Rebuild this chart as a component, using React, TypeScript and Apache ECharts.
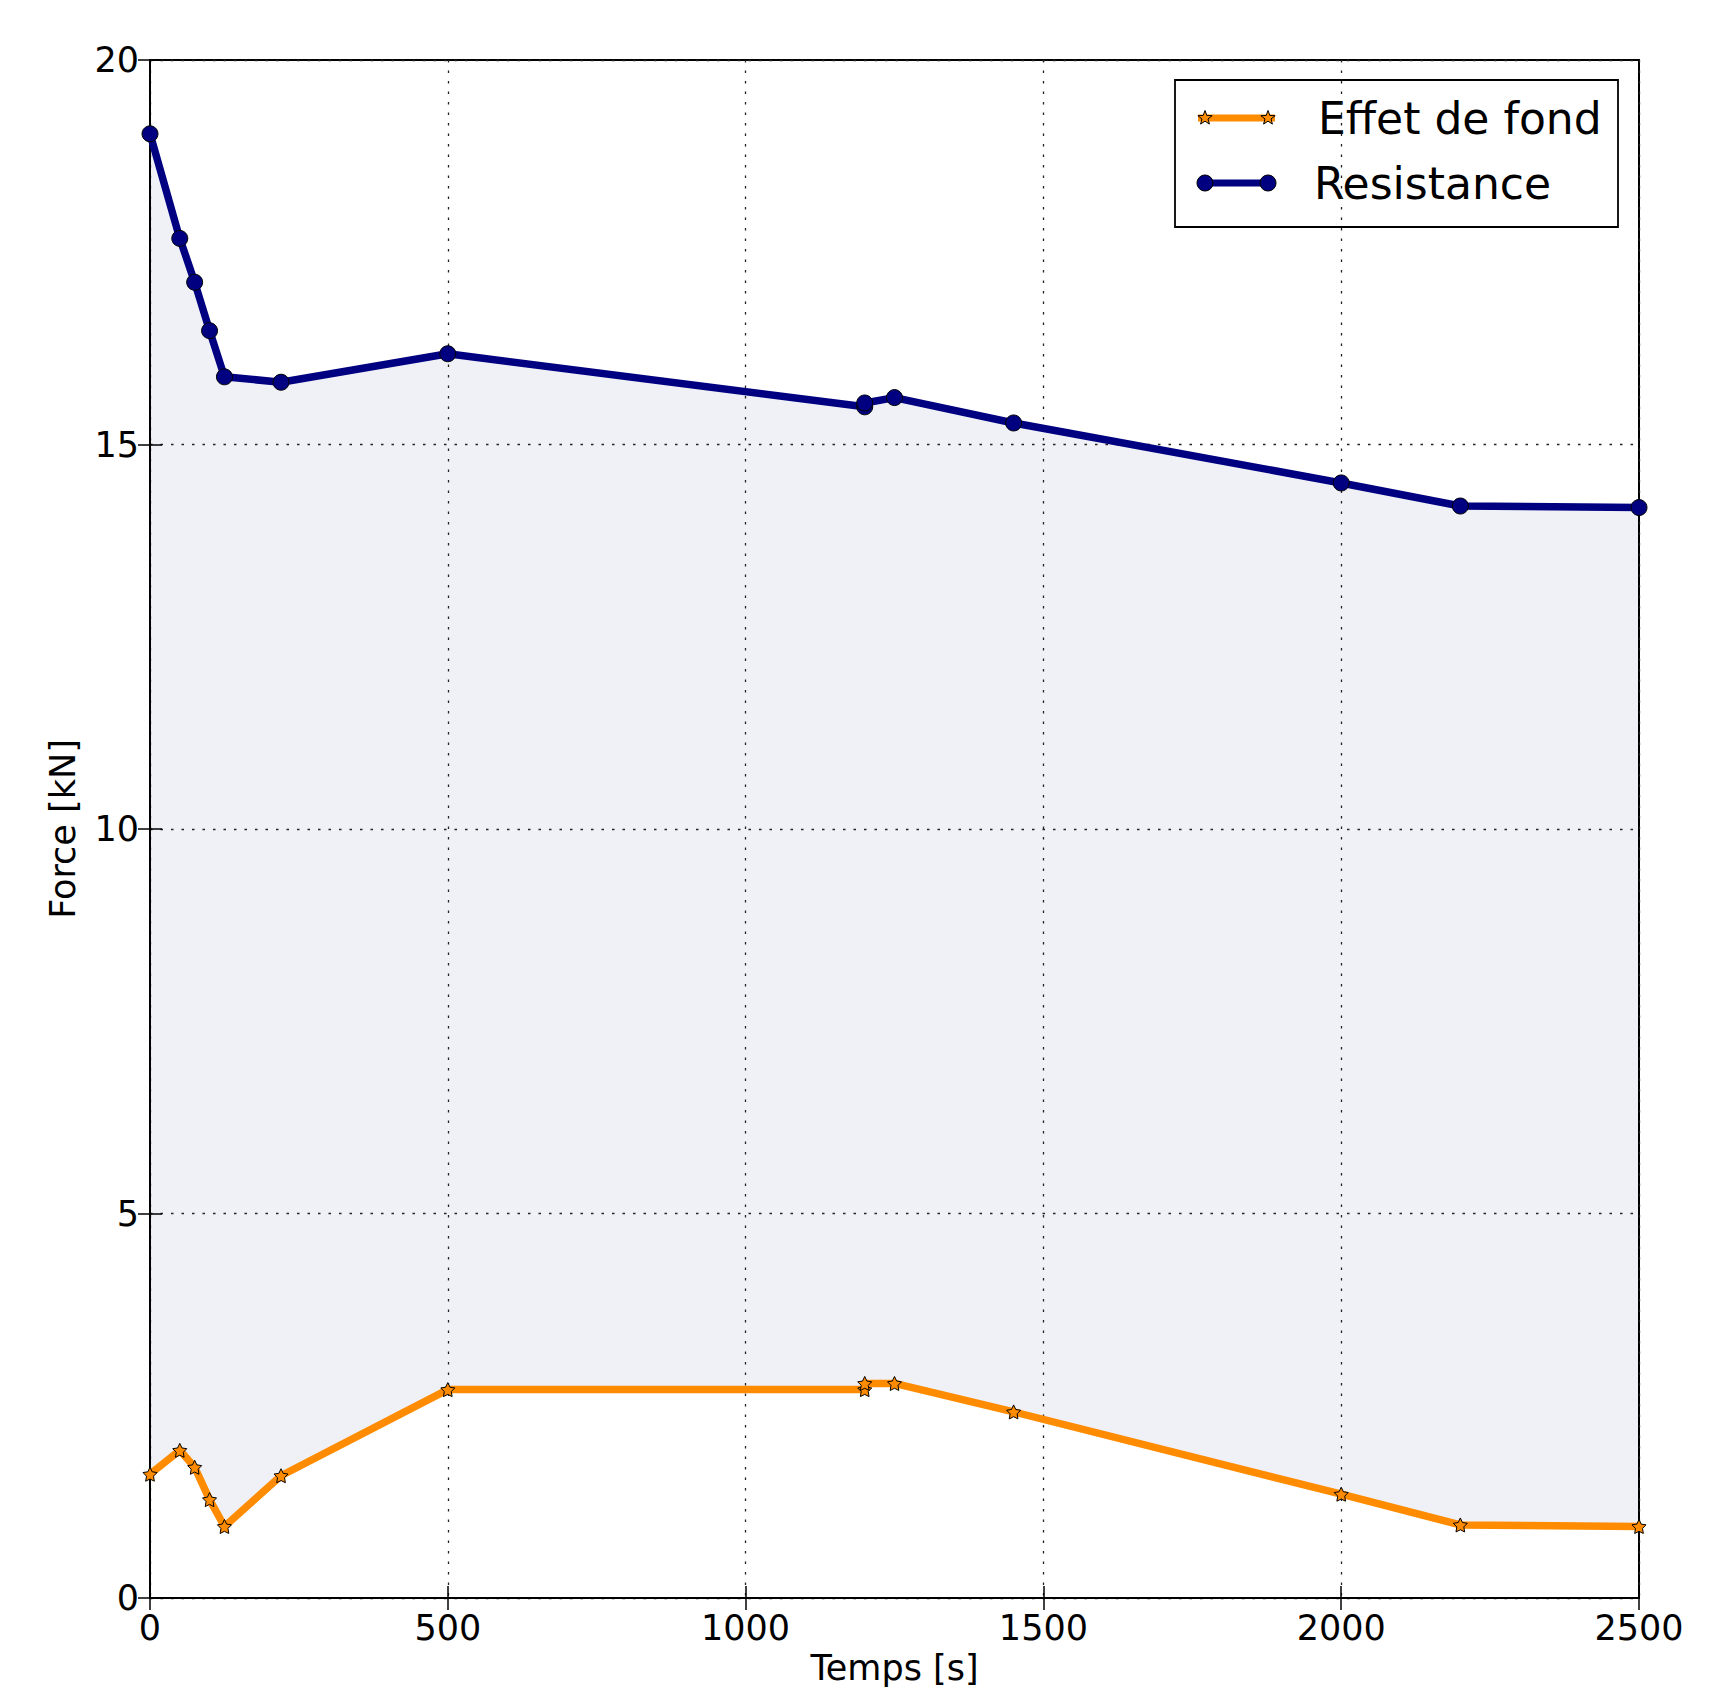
import React, { useEffect, useRef } from "react";
import * as echarts from "echarts";

const timeS = [0, 50, 75, 100, 125, 220, 500, 1200, 1200, 1250, 1450, 2000, 2200, 2500];
const resistance = [19.04, 17.68, 17.11, 16.48, 15.88, 15.81, 16.18, 15.49, 15.54, 15.61, 15.28, 14.5, 14.2, 14.18];
const effetDeFond = [1.61, 1.92, 1.7, 1.28, 0.93, 1.59, 2.71, 2.71, 2.79, 2.79, 2.42, 1.35, 0.95, 0.93];
const seriesNames = ["Effet de fond", "Resistance"];
const xTicks = [0, 500, 1000, 1500, 2000, 2500];
const yTicks = [0, 5, 10, 15, 20];

const FONT = "DejaVu Sans";
const ORANGE = "#FF8C00";
const NAVY = "#000080";
const STAR =
  "path://M0,-10L2.94,-4.05L9.51,-3.09L4.76,1.55L5.88,8.09L0,5.26L-5.88,8.09L-4.76,1.55L-9.51,-3.09L-2.94,-4.05Z";

function starPoints(cx: number, cy: number, r: number): number[][] {
  const pts: number[][] = [];
  for (let i = 0; i < 10; i++) {
    const rr = i % 2 === 0 ? r : r * 0.42;
    const a = -Math.PI / 2 + (i * Math.PI) / 5;
    pts.push([cx + rr * Math.cos(a), cy + rr * Math.sin(a)]);
  }
  return pts;
}

export default function App() {
  const ref = useRef<HTMLDivElement>(null);
  useEffect(() => {
    document.body.style.margin = "0";
    const chart = echarts.init(ref.current!, null, { renderer: "svg" });
    const resData = timeS.map((t, i) => [t, resistance[i]]);
    const effData = timeS.map((t, i) => [t, effetDeFond[i]]);
    const gridLine = { show: true, lineStyle: { color: "#222", width: 1.3, type: [2.5, 8] as any } };
    const tick = { show: true, inside: true, length: 12, lineStyle: { color: "#000", width: 1.5 } };
    const legendY1 = 118;
    const legendY2 = 183;
    chart.setOption({
      animation: false,
      backgroundColor: "#fff",
      grid: {
        left: 150,
        top: 60,
        right: 72,
        bottom: 92,
        show: true,
        borderColor: "#000",
        borderWidth: 2,
        z: 5,
        containLabel: false,
        outerBoundsMode: "none",
      },
      xAxis: [
        {
          type: "value",
          min: 0,
          max: 2500,
          interval: 500,
          z: 5,
          name: "Temps [s]",
          nameLocation: "middle",
          nameGap: 52,
          nameTextStyle: { fontFamily: FONT, fontSize: 35, lineHeight: 36, color: "#000" },
          axisLine: { show: true, onZero: false, lineStyle: { color: "#000", width: 2 } },
          axisTick: tick,
          axisLabel: {
            fontFamily: FONT,
            fontSize: 35,
            color: "#000",
            margin: 12,
            showMaxLabel: true,
            showMinLabel: true,
            customValues: xTicks,
            formatter: (v: number) => String(v),
          },
          splitLine: gridLine,
        },
        {
          type: "value",
          position: "top",
          min: 0,
          max: 2500,
          interval: 500,
          z: 5,
          axisLine: { show: true, lineStyle: { color: "#000", width: 2 } },
          axisTick: tick,
          axisLabel: { show: false },
          splitLine: { show: false },
        },
      ],
      yAxis: [
        {
          type: "value",
          min: 0,
          max: 20,
          interval: 5,
          z: 5,
          name: "Force [kN]",
          nameLocation: "middle",
          nameGap: 70,
          nameTextStyle: { fontFamily: FONT, fontSize: 35, color: "#000" },
          axisLine: { show: true, onZero: false, lineStyle: { color: "#000", width: 2 } },
          axisTick: tick,
          axisLabel: { fontFamily: FONT, fontSize: 35, color: "#000", margin: 11, customValues: yTicks, formatter: (v: number) => String(v) },
          splitLine: gridLine,
        },
        {
          type: "value",
          position: "right",
          min: 0,
          max: 20,
          interval: 5,
          z: 5,
          axisLine: { show: true, lineStyle: { color: "#000", width: 2 } },
          axisTick: tick,
          axisLabel: { show: false },
          splitLine: { show: false },
        },
      ],
      series: [
        {
          type: "custom",
          name: "fill",
          z: 1,
          silent: true,
          clip: true,
          data: [[0, 0]],
          renderItem: (params: any, api: any) => {
            if (params.dataIndex !== 0) return null;
            const top = resData.map((d) => api.coord(d));
            const bottom = effData.map((d) => api.coord(d)).reverse();
            return {
              type: "polygon",
              shape: { points: top.concat(bottom) },
              style: { fill: "#F0F1F7", stroke: "none" },
            };
          },
        },
        {
          type: "line",
          name: seriesNames[0],
          z: 10,
          data: effData,
          symbol: STAR,
          symbolSize: 14,
          showAllSymbol: true,
          lineStyle: { color: ORANGE, width: 7.5 },
          itemStyle: { color: ORANGE, borderColor: "#000", borderWidth: 1 },
        },
        {
          type: "line",
          name: seriesNames[1],
          z: 10,
          data: resData,
          symbol: "circle",
          symbolSize: 16,
          showAllSymbol: true,
          lineStyle: { color: NAVY, width: 7.5 },
          itemStyle: { color: NAVY, borderColor: "#000", borderWidth: 1 },
        },
      ],
      graphic: [
        {
          type: "group",
          z: 100,
          children: [
            { type: "rect", shape: { x: 1175, y: 80, width: 443, height: 147 }, style: { fill: "#fff", stroke: "#000", lineWidth: 1.8 } },
            { type: "line", shape: { x1: 1198, y1: legendY1, x2: 1275, y2: legendY1 }, style: { stroke: ORANGE, lineWidth: 7 } },
            { type: "polygon", shape: { points: starPoints(1205, legendY1, 7.5) }, style: { fill: ORANGE, stroke: "#000", lineWidth: 1 } },
            { type: "polygon", shape: { points: starPoints(1268, legendY1, 7.5) }, style: { fill: ORANGE, stroke: "#000", lineWidth: 1 } },
            { type: "text", x: 1318, y: legendY1, style: { text: seriesNames[0], font: `44px '${FONT}'`, fill: "#000", verticalAlign: "middle", align: "left" } },
            { type: "line", shape: { x1: 1205, y1: legendY2, x2: 1268, y2: legendY2 }, style: { stroke: NAVY, lineWidth: 7 } },
            { type: "circle", shape: { cx: 1205, cy: legendY2, r: 8 }, style: { fill: NAVY, stroke: "#000", lineWidth: 1 } },
            { type: "circle", shape: { cx: 1268, cy: legendY2, r: 8 }, style: { fill: NAVY, stroke: "#000", lineWidth: 1 } },
            { type: "text", x: 1314, y: legendY2, style: { text: seriesNames[1], font: `44px '${FONT}'`, fill: "#000", verticalAlign: "middle", align: "left" } },
          ],
        },
      ],
    });
    return () => chart.dispose();
  }, []);
  return <div ref={ref} style={{ width: 1711, height: 1690 }} />;
}
